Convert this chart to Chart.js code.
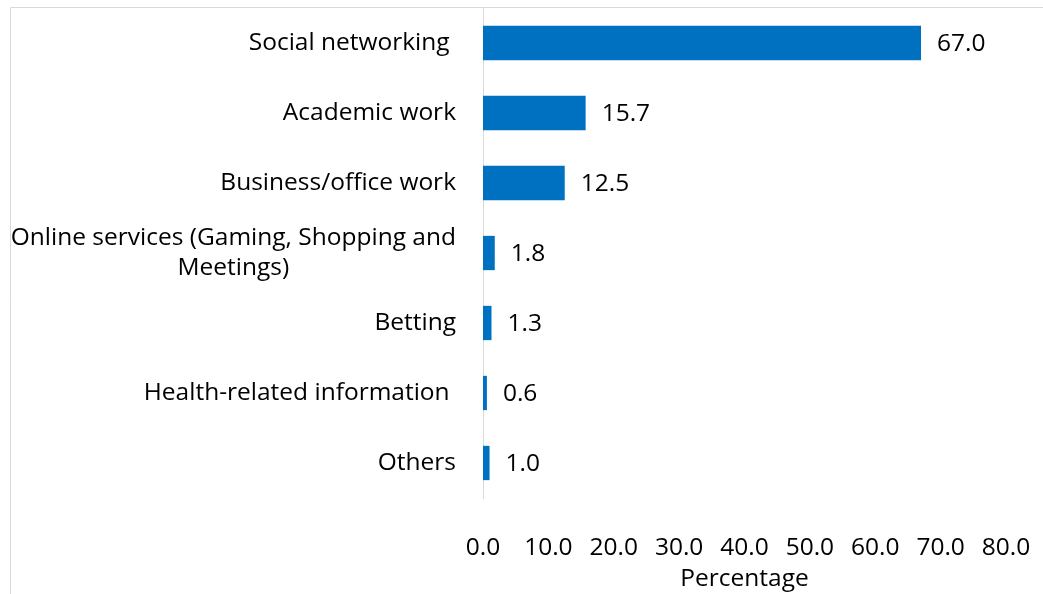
<!DOCTYPE html>
<html>
<head>
<meta charset="utf-8">
<script src="https://cdn.jsdelivr.net/npm/chart.js@4"></script>
<style>
  html, body { margin: 0; padding: 0; background: #fff; }
  #wrap { width: 1043px; height: 594px; }
</style>
</head>
<body>
<div id="wrap"><canvas id="chart"></canvas></div>
<script>
// DATA
const categories = [
  ["Social networking "],
  ["Academic work"],
  ["Business/office work"],
  ["Online services (Gaming, Shopping and", "Meetings)"],
  ["Betting"],
  ["Health-related information "],
  ["Others"],
];
const percentages = [67.0, 15.7, 12.5, 1.8, 1.3, 0.6, 1.0];
const x_ticks = [0, 10, 20, 30, 40, 50, 60, 70, 80];
const x_title = "Percentage";

const FONT = "'Open Sans', Lato, sans-serif";
const BAR_COLOR = "#0070c0";
const LINE_COLOR = "#d9d9d9";

// pick a size so the longest label is about as wide as in the picture (~442px)
const ctx = document.getElementById("chart").getContext("2d");
ctx.font = `100px ${FONT}`;
const FONT_SIZE = Math.round((100 * 442 / ctx.measureText(categories[3][0]).width) * 2) / 2;

// frame lines (chart border, cropped at right/bottom)
const framePlugin = {
  id: "frame",
  beforeDraw(chart) {
    const c = chart.ctx;
    c.save();
    c.strokeStyle = LINE_COLOR;
    c.lineWidth = 1;
    c.beginPath();
    c.moveTo(10.5, chart.height);
    c.lineTo(10.5, 7.5);
    c.lineTo(chart.width, 7.5);
    c.stroke();
    c.restore();
  },
};

// category labels: right aligned, wrapped lines centred on each other
const categoryLabels = {
  id: "categoryLabels",
  afterDraw(chart) {
    const c = chart.ctx;
    const y = chart.scales.y;
    const right = chart.chartArea.left - 27;
    const lineH = 30;
    c.save();
    c.font = `${FONT_SIZE}px ${FONT}`;
    c.fillStyle = "#000";
    c.textBaseline = "middle";
    c.textAlign = "center";
    categories.forEach((lines, i) => {
      const cy = y.getPixelForTick(i);
      const widths = lines.map((l) => c.measureText(l).width);
      const maxW = Math.max(...widths);
      const cx = right - maxW / 2;
      const top = cy - ((lines.length - 1) * lineH) / 2;
      lines.forEach((l, j) => {
        c.fillText(l, cx, top + j * lineH);
      });
    });
    c.restore();
  },
};

// value labels right of each bar
const valueLabels = {
  id: "valueLabels",
  afterDatasetsDraw(chart) {
    const c = chart.ctx;
    const meta = chart.getDatasetMeta(0);
    c.save();
    c.font = `${FONT_SIZE}px ${FONT}`;
    c.fillStyle = "#000";
    c.textAlign = "left";
    c.textBaseline = "middle";
    meta.data.forEach((bar, i) => {
      c.fillText(percentages[i].toFixed(1), bar.x + 16, bar.y + 1);
    });
    c.restore();
  },
};

new Chart(ctx, {
  type: "bar",
  data: {
    labels: categories,
    datasets: [
      {
        data: percentages,
        backgroundColor: BAR_COLOR,
        borderWidth: 0,
        barPercentage: 0.49,
        categoryPercentage: 1.0,
      },
    ],
  },
  options: {
    indexAxis: "y",
    responsive: true,
    maintainAspectRatio: false,
    animation: false,
    layout: { padding: { top: 8, right: 37, left: 0, bottom: 0 } },
    plugins: {
      legend: { display: false },
      tooltip: { enabled: false },
    },
    scales: {
      x: {
        min: 0,
        max: 80,
        afterBuildTicks(scale) {
          scale.ticks = x_ticks.map((v) => ({ value: v }));
        },
        afterFit(scale) {
          scale.height = 96;
          scale.paddingLeft = 0;
          scale.paddingRight = 0;
        },
        grid: { display: false, drawTicks: false },
        border: { display: false },
        ticks: {
          padding: 35,
          color: "#000",
          font: { family: FONT, size: FONT_SIZE },
          maxRotation: 0,
          callback: (v) => Number(v).toFixed(1),
        },
        title: {
          display: true,
          text: x_title,
          color: "#000",
          font: { family: FONT, size: FONT_SIZE },
          padding: { top: 0, bottom: 0 },
        },
      },
      y: {
        afterFit(scale) {
          scale.width = 483;
        },
        grid: { display: false, drawTicks: false },
        border: { display: true, color: LINE_COLOR, width: 1 },
        ticks: { display: false },
      },
    },
  },
  plugins: [framePlugin, categoryLabels, valueLabels],
});
</script>
</body>
</html>
